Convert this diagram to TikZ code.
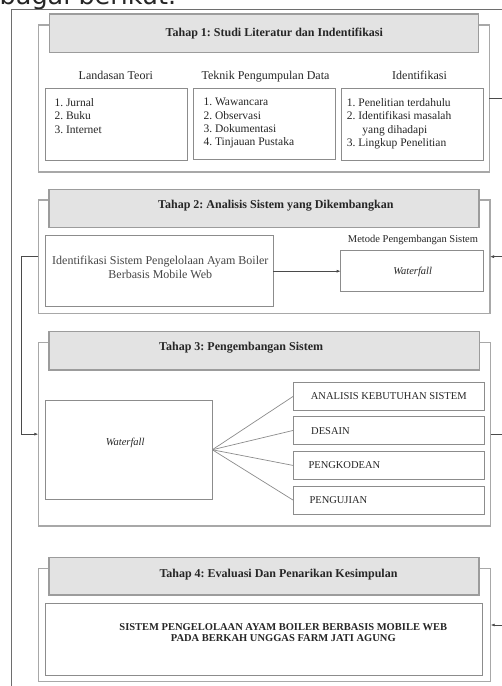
\documentclass[tikz,border=0pt]{standalone}
\usepackage{fontspec}
\setmainfont{Liberation Serif}
\newfontfamily\dejavu{DejaVu Sans}
\usetikzlibrary{arrows.meta}
\frenchspacing
\definecolor{frameC}{HTML}{6E6E6E}
\definecolor{outerC}{HTML}{A8A8A8}
\definecolor{headFill}{HTML}{E3E3E3}
\definecolor{headLine}{HTML}{9C9C9C}
\definecolor{innerC}{HTML}{8C8C8C}
\definecolor{connC}{HTML}{4A4A4A}
\definecolor{txtC}{HTML}{262626}
\definecolor{softTxt}{HTML}{454545}
\begin{document}
\begin{tikzpicture}[x=1pt,y=-1pt,
  outerbox/.style={draw=outerC,line width=1.1pt,anchor=north west,inner sep=0pt,outer sep=0pt},
  headbox/.style={draw=headLine,fill=headFill,line width=1.1pt,anchor=north west,inner sep=0pt,outer sep=0pt},
  innerbox/.style={draw=innerC,line width=0.9pt,fill=white,anchor=north west,inner sep=0pt,outer sep=0pt},
  titletxt/.style={anchor=mid west,inner sep=0pt,text=txtC,font=\fontsize{12}{14}\selectfont\bfseries},
  subtxt/.style={anchor=mid,inner sep=0pt,text=txtC,font=\fontsize{12}{14}\selectfont},
  listtxt/.style={anchor=mid west,inner sep=0pt,text=txtC,font=\fontsize{11.5}{13.3}\selectfont},
  smalltxt/.style={anchor=mid,inner sep=0pt,text=txtC,font=\fontsize{10.5}{12}\selectfont},
  capstxt/.style={anchor=mid west,inner sep=0pt,text=txtC,font=\fontsize{10.5}{12}\selectfont},
  conn/.style={draw=connC,line width=0.7pt},
  arr/.style={conn,-{Latex[length=4pt,width=3pt]}}
]
\clip (0,0) rectangle (502,686);
\fill[white] (0,0) rectangle (502,686);

% cut-off text line of the page above the figure
\node[anchor=base west,inner sep=0pt,text=txtC,font=\dejavu\fontsize{25.5}{28}\selectfont] (pagetxt) at (-0.5,4.8) {bagai berikut.};

% frame
\coordinate (fTR) at (510,9);
\coordinate (fTL) at (11.7,9);
\coordinate (fBL) at (11.7,700);
\draw[draw=frameC,line width=1pt] (fTR) -- (fTL) -- (fBL);

% ---------- Tahap 1 ----------
\node[outerbox,minimum width=451pt,minimum height=147pt] (o1) at (38.3,25) {};
\node[headbox,minimum width=429pt,minimum height=38.7pt] (h1) at (49.3,14) {};
\node[titletxt] (t1) at (165.5,34) {Tahap 1: Studi Literatur dan Indentifikasi};
\node[subtxt] (s11) at (115.8,77.3) {Landasan Teori};
\node[subtxt] (s12) at (265.5,77.3) {Teknik Pengumpulan Data};
\node[subtxt] (s13) at (419.5,77.3) {Identifikasi};
\node[innerbox,minimum width=142.3pt,minimum height=71.8pt] (b11) at (45,88.7) {};
\node[innerbox,minimum width=142.2pt,minimum height=71.5pt] (b12) at (193.3,88.3) {};
\node[innerbox,minimum width=142.3pt,minimum height=72.2pt] (b13) at (341,88.3) {};
\foreach \t [count=\i] in {1. Jurnal, 2. Buku, 3. Internet}
  \node[listtxt] (la\i) at (54.3,{104.3+13.3*(\i-1)}) {\t};
\foreach \t [count=\i] in {1. Wawancara, 2. Observasi, 3. Dokumentasi, 4. Tinjauan Pustaka}
  \node[listtxt] (lb\i) at (203.3,{103.6+13.3*(\i-1)}) {\t};
\node[listtxt] (lc1) at (346.7,104.3) {1. Penelitian terdahulu};
\node[listtxt] (lc2) at (346.7,117.6) {2. Identifikasi masalah};
\node[listtxt] (lc3) at (362.2,130.9) {yang dihadapi};
\node[listtxt] (lc4) at (346.7,144.2) {3. Lingkup Penelitian};

% ---------- Tahap 2 ----------
\node[outerbox,minimum width=451.7pt,minimum height=113.3pt] (o2) at (38.3,200) {};
\node[headbox,minimum width=430pt,minimum height=38.4pt] (h2) at (49,189.3) {};
\node[titletxt] (t2) at (158,206) {Tahap 2: Analisis Sistem yang Dikembangkan};
\node[innerbox,minimum width=228pt,minimum height=71pt] (b21) at (45.3,235.7) {};
\node[subtxt,text=softTxt] (b21a) at (160.3,261.7) {Identifikasi Sistem Pengelolaan Ayam Boiler};
\node[subtxt,text=softTxt] (b21b) at (160.3,276) {Berbasis Mobile Web};
\node[smalltxt] (m2) at (413,240.7) {Metode Pengembangan Sistem};
\node[innerbox,minimum width=142.6pt,minimum height=41pt] (b22) at (340.7,250.7) {};
\node[smalltxt,font=\fontsize{10.5}{12}\selectfont\itshape] (w2) at (412.7,271.7) {Waterfall};
\draw[arr] (b21.east) -- (b22.west);

% ---------- Tahap 3 ----------
\node[outerbox,minimum width=452.2pt,minimum height=183.7pt] (o3) at (38.3,342.3) {};
\node[headbox,minimum width=430.3pt,minimum height=38.3pt] (h3) at (49,331.7) {};
\node[titletxt] (t3) at (159,348.3) {Tahap 3: Pengembangan Sistem};
\node[innerbox,minimum width=166.6pt,minimum height=99.5pt] (b31) at (45.7,400) {};
\node[smalltxt,font=\fontsize{10.5}{12}\selectfont\itshape] (w3) at (125.2,443.3) {Waterfall};
\node[innerbox,minimum width=191pt,minimum height=27.7pt] (r1) at (293.5,382.3) {};
\node[innerbox,minimum width=191pt,minimum height=27.3pt] (r2) at (293.5,416.7) {};
\node[innerbox,minimum width=191pt,minimum height=27.6pt] (r3) at (293.5,451.7) {};
\node[innerbox,minimum width=191pt,minimum height=27.3pt] (r4) at (293.5,486.7) {};
\node[capstxt] (r1t) at (310.7,397) {ANALISIS KEBUTUHAN SISTEM};
\node[capstxt] (r2t) at (311,432) {DESAIN};
\node[capstxt] (r3t) at (308.3,466) {PENGKODEAN};
\node[capstxt] (r4t) at (309.3,501.5) {PENGUJIAN};
\foreach \r in {r1,r2,r3,r4}
  \draw[draw=innerC,line width=0.7pt] (b31.east) -- (\r.west);

% ---------- Tahap 4 ----------
\node[outerbox,minimum width=452.4pt,minimum height=113.4pt] (o4) at (38.3,568.3) {};
\node[headbox,minimum width=430pt,minimum height=37.7pt] (h4) at (49,557.3) {};
\node[titletxt] (t4) at (159.3,575) {Tahap 4: Evaluasi Dan Penarikan Kesimpulan};
\node[innerbox,minimum width=437pt,minimum height=71.7pt] (b41) at (45.7,603.3) {};
\node[smalltxt,font=\fontsize{10.5}{12}\selectfont\bfseries] (b41a) at (283.3,628.3) {SISTEM PENGELOLAAN AYAM BOILER BERBASIS MOBILE WEB};
\node[smalltxt,font=\fontsize{10.5}{12}\selectfont\bfseries] (b41b) at (283.3,639.3) {PADA BERKAH UNGGAS FARM JATI AGUNG};

% ---------- connectors between stages ----------
\coordinate (lx) at (21,300);
\draw[arr] (o2.west) -- (lx |- o2.west) -- (lx |- o3.west) -- (o3.west);
\coordinate (rx) at (515,300);
\draw[conn] (o1.east) -- (rx |- o1.east);
\draw[arr] (rx |- o2.east) -- (o2.east);
\draw[conn] (o3.east) -- (rx |- o3.east);
\draw[arr] (rx |- o4.east) -- (o4.east);
\end{tikzpicture}
\end{document}
